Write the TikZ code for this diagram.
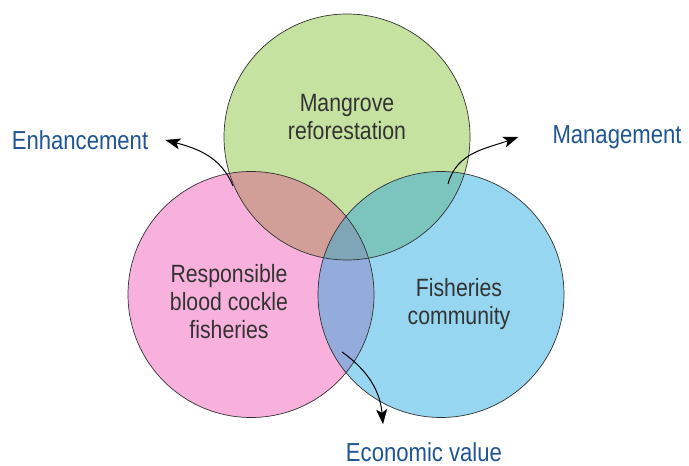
\documentclass[tikz,border=0pt]{standalone}
\usepackage{fontspec}
\setmainfont{Liberation Sans}[FakeStretch=0.85]
\usepackage{tikz}
\usetikzlibrary{arrows.meta, positioning}
\definecolor{vennpink}{HTML}{F8B1DC}
\definecolor{venngreen}{HTML}{C6E2A0}
\definecolor{vennblue}{HTML}{97D6F0}
\definecolor{vennpg}{HTML}{D19F98}
\definecolor{venngb}{HTML}{7BC5BE}
\definecolor{vennpb}{HTML}{93ACDC}
\definecolor{vennall}{HTML}{7FA6B7}
\definecolor{labelblue}{HTML}{1F5592}
\definecolor{textgray}{HTML}{333333}

\begin{document}
\begin{tikzpicture}[
    x=1pt, y=1pt,
    ring/.style={draw=black!80, line width=0.7pt},
    topic/.style={align=center, text=textgray, font=\fontsize{25}{28}\selectfont},
    outcome/.style={text=labelblue, font=\fontsize{26}{30}\selectfont, inner sep=0pt},
    arrow/.style={-{Stealth[length=15pt, width=11pt, inset=3.5pt]}, line width=1pt, black}
]
\useasboundingbox (0,0) rectangle (689,466);

\coordinate (mangrove) at (347,329);
\coordinate (cockle) at (251,171.5);
\coordinate (community) at (441,171.5);

% base discs
\fill[venngreen] (mangrove) circle[radius=123pt];
\fill[vennpink] (cockle) circle[radius=123pt];
\fill[vennblue] (community) circle[radius=123pt];

% pairwise overlaps
\begin{scope}
  \clip (mangrove) circle[radius=123pt];
  \fill[vennpg] (cockle) circle[radius=123pt];
  \fill[venngb] (community) circle[radius=123pt];
\end{scope}
\begin{scope}
  \clip (cockle) circle[radius=123pt];
  \fill[vennpb] (community) circle[radius=123pt];
  \clip (community) circle[radius=123pt];
  \fill[vennall] (mangrove) circle[radius=123pt];
\end{scope}

\draw[ring] (mangrove) circle[radius=123pt];
\draw[ring] (cockle) circle[radius=123pt];
\draw[ring] (community) circle[radius=123pt];

\node[topic] (mangrovetext) at (347,349) {Mangrove\\reforestation};
\node[topic] (cockletext) at (229,164) {Responsible\\blood cockle\\fisheries};
\node[topic] (communitytext) at (459,162) {Fisheries\\community};

\node[outcome] (enhancement) at (80,326) {Enhancement};
\node[outcome] (management) at (617,329) {Management};
\node[outcome] (economic) at (424,14) {Economic value};

\coordinate (enhstart) at (233,280);
\coordinate (mgmtstart) at (448,282);
\coordinate (econstart) at (342,114);

\draw[arrow] (enhstart) to[out=112, in=-15] ([xshift=17pt]enhancement.east);
\draw[arrow] (mgmtstart) to[out=75, in=200] ([xshift=-34pt]management.west);
\draw[arrow] (econstart) to[out=-35, in=95] ([xshift=-41pt, yshift=18pt]economic.north);

\end{tikzpicture}
\end{document}
